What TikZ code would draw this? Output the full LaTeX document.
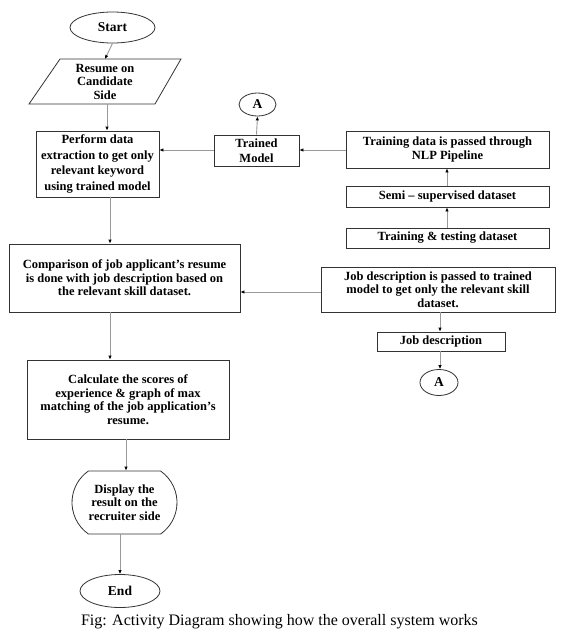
\documentclass[tikz,border=0pt]{standalone}
\usepackage{fontspec}
\setmainfont{Liberation Serif}
\usetikzlibrary{shapes.geometric,shapes.misc,arrows.meta}
\begin{document}
\begin{tikzpicture}[x=1pt,y=-1pt,
  box/.style={draw=black!80, line width=0.8pt, inner sep=0pt, align=center,
    font=\bfseries\fontsize{12.5}{13.5}\selectfont},
  term/.style={ellipse, draw=black!80, line width=0.8pt, inner sep=0pt,
    font=\bfseries\fontsize{13.5}{15}\selectfont},
  conn/.style={draw=black!40, line width=0.9pt, -{Latex[length=4pt,width=3.5pt,black]}},
  bline/.style={draw=black!80, line width=0.8pt}]
\fill[white] (0,0) rectangle (569,638);
\useasboundingbox (0,0) rectangle (569,638);
% helper x positions
\coordinate (x107) at (107,0);
\coordinate (x110) at (110,0);
\coordinate (x126) at (126,0);
\coordinate (x120) at (120,0);
\coordinate (x447) at (447,0);
\coordinate (x440) at (440,0);
\coordinate (y150) at (0,150);
\coordinate (y292) at (0,292);
% nodes
\node[term, minimum width=85pt, minimum height=31pt] (start) at (112.5,27.5) {Start};
\node[inner sep=0pt, align=center, minimum width=120pt, minimum height=45pt,
  font=\bfseries\fontsize{12.5}{13.5}\selectfont] (resume) at (105,81.5) {Resume on\\Candidate\\Side};
\draw[bline] (60,59) -- (181,59) -- (155,104) -- (29,104) -- cycle;
\node[box, minimum width=123pt, minimum height=66pt, font=\bfseries\fontsize{12.5}{15.5}\selectfont] (perform) at (97.5,164)
  {Perform data\\extraction to get only\\relevant keyword\\using trained model};
\node[box, minimum width=85pt, minimum height=31pt, font=\bfseries\fontsize{12.5}{15}\selectfont] (trained) at (256.5,150.5) {Trained\\Model};
\node[term, minimum width=37pt, minimum height=23pt] (a1) at (257.5,104.5) {A};
\node[box, minimum width=203pt, minimum height=37pt] (nlp) at (447.5,149.5) {Training data is passed through\\NLP Pipeline};
\node[box, minimum width=203pt, minimum height=21pt] (semi) at (447.5,196.5) {Semi -- supervised dataset};
\node[box, minimum width=203pt, minimum height=20pt] (tt) at (447.5,238) {Training \& testing dataset};
\node[box, minimum width=231pt, minimum height=68pt] (comp) at (124.5,278)
  {Comparison of job applicant’s resume\\is done with job description based on\\the relevant skill dataset.};
\node[box, minimum width=234pt, minimum height=45pt] (jd) at (438,289.5)
  {Job description is passed to trained\\model to get only the relevant skill\\dataset.};
\node[box, minimum width=128pt, minimum height=19pt] (jds) at (441,341.5) {Job description};
\node[term, minimum width=38pt, minimum height=26pt] (a2) at (439,382.5) {A};
\node[box, minimum width=202pt, minimum height=79pt] (calc) at (128,399.5)
  {Calculate the scores of\\experience \& graph of max\\matching of the job application’s\\resume.};
\node[box, rounded rectangle, rounded rectangle arc length=110, minimum width=105pt, minimum height=63pt] (disp) at (124.5,502.5)
  {Display the\\result on the\\recruiter side};
\node[term, minimum width=80pt, minimum height=33pt] (end) at (120,591) {End};
\node[font=\fontsize{16}{18}\selectfont, inner sep=0pt] (cap) at (279.5,622) {Fig: Activity Diagram showing how the overall system works};
% connectors
\draw[conn] (start.south) -- (resume.south |- 0,59);
\draw[conn] (resume.south -| x107) -- (perform.north -| x107);
\draw[conn] (trained.west |- y150) -- (perform.east |- y150);
\draw[conn] (trained.north) -- (a1.south);
\draw[conn] (nlp.west |- y150) -- (trained.east |- y150);
\draw[conn] (semi.north -| x447) -- (nlp.south -| x447);
\draw[conn] (tt.north -| x447) -- (semi.south -| x447);
\draw[conn] (perform.south -| x110) -- (comp.north -| x110);
\draw[conn] (jd.west |- y292) -- (comp.east |- y292);
\draw[conn] (jd.south -| x440) -- (jds.north -| x440);
\draw[conn] (jds.south -| x440) -- (a2.north -| x440);
\draw[conn] (comp.south -| x110) -- (calc.north -| x110);
\draw[conn] (calc.south -| x126) -- (disp.north -| x126);
\draw[conn] (disp.south -| x120) -- (end.north -| x120);
\end{tikzpicture}
\end{document}
